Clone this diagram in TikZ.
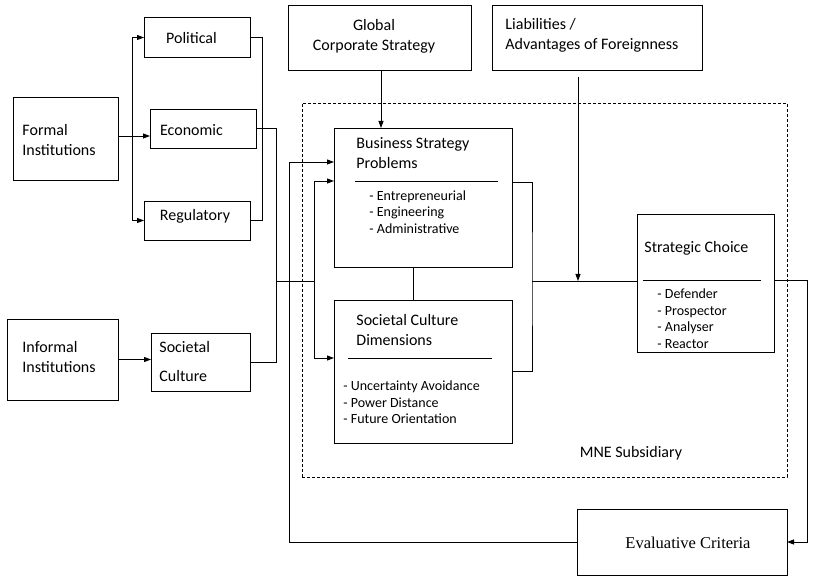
\documentclass[tikz,border=0pt]{standalone}
\usepackage{fontspec}
\setmainfont{Carlito}
\newfontfamily\serifface{Liberation Serif}
\usetikzlibrary{arrows.meta}
\begin{document}
\begin{tikzpicture}[x=1pt,y=-1pt,
  line width=0.9pt,
  box/.style={draw, inner sep=0pt, outer sep=0pt},
  frame/.style={draw, dash pattern=on 3pt off 2pt, inner sep=0pt, outer sep=0pt},
  arr/.style={-{Triangle[length=7pt,width=5pt]}},
  title/.style={font=\fontsize{16}{20}\selectfont, inner sep=0pt, align=left},
  items/.style={font=\fontsize{14}{16.5}\selectfont, inner sep=0pt, align=left},
]
\useasboundingbox (0,0) rectangle (820,577);

% subsidiary frame
\node[frame, minimum width=485pt, minimum height=374pt] (mne) at (544.5,290) {};
\node[title] (mneT) at (631,453) {MNE Subsidiary};

% institutional environment
\node[box, minimum width=105pt, minimum height=83pt] (formal) at (65.5,138.5) {};
\node[title, anchor=west] (formalT) at (22,140) {Formal\\Institutions};
\node[box, minimum width=106pt, minimum height=40pt] (political) at (197,37.5) {};
\node[title] (politicalT) at (191.5,38) {Political};
\node[box, minimum width=106pt, minimum height=39pt] (economic) at (203,128.5) {};
\node[title] (economicT) at (191.5,130) {Economic};
\node[box, minimum width=106pt, minimum height=39pt] (regulatory) at (197,220.5) {};
\node[title] (regulatoryT) at (195,216) {Regulatory};

\node[box, minimum width=111pt, minimum height=81pt] (informal) at (62.5,359.5) {};
\node[title, anchor=west] (informalT) at (22,357) {Informal\\Institutions};
\node[box, minimum width=99pt, minimum height=58pt] (societal) at (200.5,362) {};
\node[title, anchor=west, font=\fontsize{16}{29}\selectfont] (societalT) at (159,362) {Societal\\Culture};

% headquarters level
\node[box, minimum width=183pt, minimum height=65pt] (global) at (379.5,37.5) {};
\node[title, align=center] (globalT) at (374,36.5) {Global\\Corporate Strategy};
\node[box, minimum width=210pt, minimum height=65pt] (liab) at (597,37.5) {};
\node[title, anchor=west] (liabT) at (505,35) {Liabilities /\\Advantages of Foreignness};

% subsidiary contents
\node[box, minimum width=178pt, minimum height=139pt] (bsp) at (423,197.5) {};
\node[title, anchor=west] (bspT) at (356,153.5) {Business Strategy\\Problems};
\draw (355,181) -- (498,181);
\node[items, anchor=west] (bspI) at (369,212) {- Entrepreneurial\\- Engineering\\- Administrative};

\node[box, minimum width=178pt, minimum height=143pt] (scd) at (423,371.5) {};
\node[title, anchor=west] (scdT) at (356,330.5) {Societal Culture\\Dimensions};
\draw (348,358) -- (492,358);
\node[items, anchor=west] (scdI) at (343,402.5) {- Uncertainty Avoidance\\- Power Distance\\- Future Orientation};

\node[box, minimum width=137pt, minimum height=138pt] (choice) at (705.5,283) {};
\node[title, anchor=west] (choiceT) at (644,248) {Strategic Choice};
\draw (643,280) -- (761,280);
\node[items, anchor=west] (choiceI) at (657,318.5) {- Defender\\- Prospector\\- Analyser\\- Reactor};

\node[box, minimum width=210pt, minimum height=66pt] (eval) at (682,542) {};
\node[font=\serifface\fontsize{16.5}{20}\selectfont, inner sep=0pt] (evalT) at (688,543) {Evaluative Criteria};

% formal institutions fan out
\coordinate (fj) at ([yshift=2.5pt]formal.east);
\draw[arr] (fj) -- (fj -| economic.west);
\coordinate (fb) at (132,136);
\draw (fb |- political.west) -- (fb |- regulatory.west);
\draw[arr] (fb |- political.west) -- (political.west);
\draw[arr] (fb |- regulatory.west) -- (regulatory.west);
\draw (political.east) -- ++(12,0) |- (regulatory.east);

% informal institutions
\draw[arr] (informal.east) -- (informal.east -| societal.west);

% environment feeds the subsidiary
\draw (economic.east) -- ++(20,0) |- (societal.east);
\coordinate (ja) at (276,281);
\coordinate (jb) at (314,281);
\draw (ja) -- (jb);
\coordinate (bin) at ([yshift=16.5pt]bsp.west);
\coordinate (sin) at ([yshift=13.5pt]scd.west);
\draw[arr] (jb) |- (bin);
\draw[arr] (jb) |- (sin);

% corporate strategy and foreignness
\coordinate (g) at ([xshift=1.5pt]global.south);
\draw[arr] (g) -- (g |- bsp.north);
\draw ([xshift=-10pt]bsp.south) -- ([xshift=-10pt]scd.north);

% towards strategic choice
\coordinate (bout) at ([yshift=15.5pt]bsp.east);
\coordinate (m) at (532,281);
\draw (bout) -| (m) |- (scd.east);
\draw (m) -- (m -| choice.west);
\coordinate (l) at ([xshift=-19pt,yshift=-7pt]liab.south);
\draw[arr] (l) -- (l |- m);

% evaluation feedback loop
\coordinate (cout) at ([yshift=3pt]choice.east);
\draw[arr] (cout) -- ++(33,0) |- (eval.east);
\coordinate (lp) at (289,162);
\coordinate (fin) at ([yshift=35.5pt]bsp.west);
\draw[arr] (eval.west) -| (lp) -- (fin);
\end{tikzpicture}
\end{document}
